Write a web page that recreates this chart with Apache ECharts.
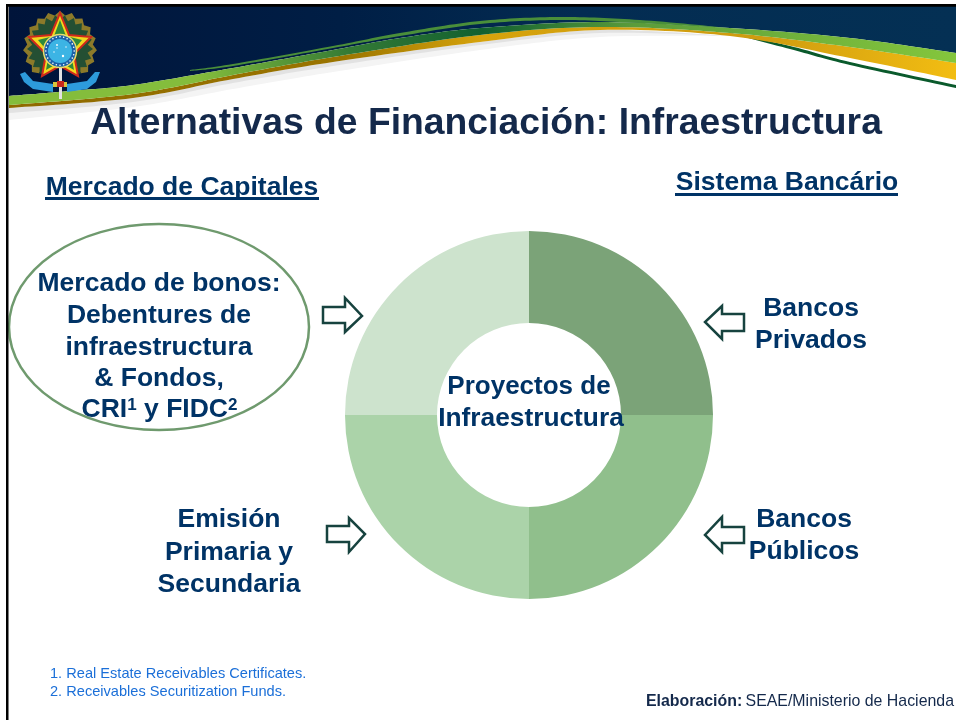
<!DOCTYPE html>
<html>
<head>
<meta charset="utf-8">
<style>
  html, body { margin: 0; padding: 0; background: #fff; }
  #chart { width: 956px; height: 720px; }
</style>
<script src="https://cdn.jsdelivr.net/npm/echarts@6/dist/echarts.min.js"></script>
</head>
<body>
<div id="chart"></div>
<script>
var sliceNames = ['Bancos Privados', 'Bancos Públicos', 'Emisión Primaria y Secundaria', 'Mercado de bonos'];
var sliceValues = [25, 25, 25, 25];
var sliceColors = ['#7ba378', '#90bf8c', '#abd3a9', '#cde3cd'];

var navy = '#003366';
var font = '"Liberation Sans", Arial, sans-serif';

function label(x, y, text, size, color, align, weight) {
  return {
    type: 'text', x: x, y: y, z: 20,
    style: {
      text: text, fill: color, align: align || 'center', verticalAlign: 'middle',
      font: (weight || 'bold') + ' ' + size + 'px ' + font
    }
  };
}

// lines are spaced by hand, y is the middle of the first line
function block(x, y, lines, step, size) {
  return lines.map(function (t, i) {
    return label(x, y + i * step, t, size, navy);
  });
}

function arrow(points) {
  return {
    type: 'polygon', z: 10,
    shape: { points: points },
    style: { fill: '#fff', stroke: '#17433f', lineWidth: 2.5 }
  };
}

function underline(x1, x2, y) {
  return { type: 'rect', z: 20, shape: { x: x1, y: y, width: x2 - x1, height: 3 }, style: { fill: navy } };
}

function grad(stops) {
  return {
    type: 'linear', global: true, x: 9, y: 0, x2: 956, y2: 0,
    colorStops: stops.map(function (s) { return { offset: s[0], color: s[1] }; })
  };
}

// catmull-rom through anchor points, the banner edges are given as anchors
function curve(a) {
  var out = [];
  for (var i = 0; i < a.length - 1; i++) {
    var p0 = a[Math.max(i - 1, 0)], p1 = a[i], p2 = a[i + 1], p3 = a[Math.min(i + 2, a.length - 1)];
    for (var s = 0; s < 16; s++) {
      var t = s / 16, t2 = t * t, t3 = t2 * t;
      out.push([0, 1].map(function (k) {
        return 0.5 * (2 * p1[k] + (p2[k] - p0[k]) * t + (2 * p0[k] - 5 * p1[k] + 4 * p2[k] - p3[k]) * t2 + (3 * p1[k] - p0[k] - 3 * p2[k] + p3[k]) * t3);
      }));
    }
  }
  out.push(a[a.length - 1]);
  return out;
}

function band(top, bottom, fill, z) {
  return { type: 'polygon', z: z, shape: { points: curve(top).concat(curve(bottom).reverse()) }, style: { fill: fill } };
}

var edgeTop = [[9, 96], [70, 91], [133, 85], [233, 68], [333, 50], [400, 38], [480, 28], [600, 22], [730, 28], [850, 38], [956, 53]];
var edgeMid = [[9, 105], [133, 94], [233, 75], [333, 57], [480, 35], [600, 27], [730, 33], [850, 47], [956, 63]];
var edgeLow = [[9, 108], [133, 98], [233, 79], [333, 62], [480, 42], [600, 30], [730, 36], [850, 58], [956, 80]];

var banner = [
  // soft shadow under the swoosh
  band(edgeLow.slice(0, 7), [[9, 120], [133, 107], [233, 89], [333, 72], [480, 50], [600, 37], [730, 36]], '#f4f4f4', 1),
  band(edgeLow.slice(0, 7), [[9, 113], [133, 102], [233, 83], [333, 66], [480, 45], [600, 33], [730, 36]], '#e2e2e2', 1),
  // navy field
  {
    type: 'polygon', z: 2,
    shape: { points: [[9, 6], [956, 6]].concat(curve(edgeTop).reverse()) },
    style: { fill: grad([[0, '#00143a'], [0.35, '#001e45'], [0.6, '#032c52'], [1, '#043054']]) }
  },
  // thin dark green line at the right
  band([[725, 32], [790, 46], [850, 62], [956, 85]], [[725, 32], [790, 49], [850, 65], [956, 88]], '#0a5a2c', 3),
  // gold edge
  band(edgeMid, edgeLow, grad([[0, '#8f6a00'], [0.35, '#9a7400'], [0.5, '#d6a30c'], [0.8, '#cf9c10'], [1, '#f2bd12']]), 3),
  // green band
  band(edgeTop, edgeMid, grad([[0, '#84bd3c'], [0.2, '#84bd3c'], [0.36, '#347a35'], [0.5, '#116030'], [0.66, '#5b9c3b'], [1, '#84c63c']]), 4),
  // thin green stripe above the band
  band([[190, 70], [233, 64], [333, 46], [400, 33], [480, 21], [560, 17], [640, 20], [730, 28]],
    [[190, 71], [233, 66], [333, 48], [400, 36], [480, 24], [560, 20], [640, 23], [730, 28]], '#4a8f3a', 5)
];

// spiky wreath around the star, drawn as a ring of teeth
function teeth(cx, cy, r1, r2, n, from, to) {
  var pts = [[cx, cy]];
  for (var i = 0; i <= n * 2; i++) {
    var a = (from + (to - from) * i / (n * 2)) * Math.PI / 180;
    var r = i % 2 ? r2 : r1;
    pts.push([cx + r * Math.sin(a), cy - r * Math.cos(a)]);
  }
  return pts;
}

var ringDots = [];
for (var d = 0; d < 24; d++) {
  var ang = d * 15 * Math.PI / 180;
  ringDots.push({
    type: 'circle', z: 36,
    shape: { cx: 60 + 14.2 * Math.cos(ang), cy: 51 + 14.2 * Math.sin(ang), r: 0.8 },
    style: { fill: '#fff' }
  });
}

var emblem = [
  { type: 'polygon', z: 30, shape: { points: teeth(60, 48, 33, 37, 15, -140, 140) }, style: { fill: '#8c7a2a' } },
  { type: 'polygon', z: 30, shape: { points: teeth(60, 48, 28, 33, 18, -150, 150) }, style: { fill: '#244f33' } },
  { type: 'polygon', z: 31, shape: { points: [[20, 74], [25, 72], [33, 81], [53, 84], [53, 92], [33, 89], [24, 82]] }, style: { fill: '#2d9bdc' } },
  { type: 'polygon', z: 31, shape: { points: [[100, 72], [95, 72], [87, 81], [67, 84], [67, 92], [87, 89], [96, 82]] }, style: { fill: '#2d9bdc' } },
  { type: 'polygon', z: 31, shape: { points: [[53, 82], [67, 82], [67, 87], [53, 87]] }, style: { fill: '#d9c23a' } },
  { type: 'rect', z: 32, shape: { x: 59, y: 66, width: 3, height: 33 }, style: { fill: '#e2e2e2' } },
  { type: 'rect', z: 32, shape: { x: 57, y: 81, width: 7, height: 6 }, style: { fill: '#c8281c' } },
  {
    type: 'polygon', z: 33,
    shape: { points: [[60, 13], [69, 35], [91, 37], [74, 54], [78, 76], [60, 66], [42, 76], [46, 54], [29, 37], [51, 35]] },
    style: { fill: '#f2d81e', stroke: '#cf2a1c', lineWidth: 2 }
  },
  {
    type: 'polygon', z: 34,
    shape: { points: [[60, 20], [66, 36], [82, 40], [71, 53], [74, 70], [60, 62], [46, 70], [49, 53], [38, 40], [54, 36]] },
    style: { fill: '#2f8a3a' }
  },
  { type: 'circle', z: 35, shape: { cx: 60, cy: 51, r: 16.5 }, style: { fill: '#1c62a8', stroke: '#e9dc6a', lineWidth: 1.5 } },
  { type: 'circle', z: 37, shape: { cx: 60, cy: 51, r: 12 }, style: { fill: '#3cb4e4' } },
  { type: 'circle', z: 38, shape: { cx: 57, cy: 45, r: 0.9 }, style: { fill: '#fff' } },
  { type: 'circle', z: 38, shape: { cx: 57, cy: 48, r: 0.7 }, style: { fill: '#fff' } },
  { type: 'circle', z: 38, shape: { cx: 63, cy: 56, r: 1.2 }, style: { fill: '#fff' } },
  { type: 'circle', z: 38, shape: { cx: 66, cy: 47, r: 0.7 }, style: { fill: '#fff' } },
  { type: 'circle', z: 38, shape: { cx: 54, cy: 52, r: 0.7 }, style: { fill: '#fff' } }
].concat(ringDots);

var frame = [
  { type: 'rect', z: 40, shape: { x: 6, y: 4, width: 950, height: 2.7 }, style: { fill: '#000' } },
  { type: 'rect', z: 40, shape: { x: 6, y: 4, width: 2.5, height: 716 }, style: { fill: '#000' } }
];

var texts = [
  label(486, 124, 'Alternativas de Financiación: Infraestructura', 37.3, '#14294b'),
  label(182, 188, 'Mercado de Capitales', 26.5, navy),
  underline(45, 319, 197),
  label(787, 183, 'Sistema Bancário', 26.5, navy),
  underline(675, 898, 193),
  { type: 'ellipse', z: 9, shape: { cx: 159, cy: 327, rx: 150, ry: 103 }, style: { fill: 'none', stroke: '#6f9a6e', lineWidth: 2.5 } },
  arrow([[323, 307], [345, 307], [345, 298], [362, 316], [345, 332], [345, 323], [323, 323]]),
  arrow([[744, 314], [722, 314], [722, 306], [705, 322], [722, 339], [722, 331], [744, 331]]),
  arrow([[327, 526], [349, 526], [349, 518], [365, 534], [349, 552], [349, 542], [327, 542]]),
  arrow([[744, 527], [722, 527], [722, 517], [705, 535], [722, 552], [722, 543], [744, 543]]),
  label(529, 387, 'Proyectos de', 26, navy),
  label(531, 419, 'Infraestructura', 26.3, navy),
  {
    type: 'text', x: 159.5, y: 410, z: 20,
    style: {
      text: '{b|CRI}{s|1}{b| y FIDC}{s|2}', align: 'center', verticalAlign: 'middle',
      rich: {
        b: { font: 'bold 26.5px ' + font, fill: navy },
        s: { font: 'bold 17px ' + font, fill: navy, verticalAlign: 'top' }
      }
    }
  },
  label(50, 674, '1. Real Estate Receivables Certificates.', 14.6, '#1b6fd8', 'left', 'normal'),
  label(50, 692, '2. Receivables Securitization Funds.', 14.6, '#1b6fd8', 'left', 'normal'),
  {
    type: 'text', x: 954, y: 702, z: 20,
    style: {
      text: '{b|Elaboración:} {n|SEAE/Ministerio de Hacienda}', align: 'right', verticalAlign: 'middle',
      rich: {
        b: { font: 'bold 15.9px ' + font, fill: '#14294b' },
        n: { font: '15.9px ' + font, fill: '#14294b' }
      }
    }
  }
].concat(
  block(159, 284, ['Mercado de bonos:', 'Debentures de', 'infraestructura', '& Fondos,'], 31.7, 26.5),
  block(811, 309, ['Bancos', 'Privados'], 32, 26.5),
  block(804, 520, ['Bancos', 'Públicos'], 32, 26.5),
  block(229, 520, ['Emisión', 'Primaria y', 'Secundaria'], 32.5, 26.5)
);

var chart = echarts.init(document.getElementById('chart'), null, { renderer: 'canvas' });
chart.setOption({
  backgroundColor: '#fff',
  animation: false,
  series: [{
    type: 'pie',
    center: [529, 415],
    radius: [92, 184],
    startAngle: 90,
    clockwise: true,
    silent: true,
    label: { show: false },
    labelLine: { show: false },
    data: sliceValues.map(function (v, i) {
      return { name: sliceNames[i], value: v, itemStyle: { color: sliceColors[i] } };
    })
  }],
  graphic: { elements: banner.concat(emblem, frame, texts) }
});
</script>
</body>
</html>
